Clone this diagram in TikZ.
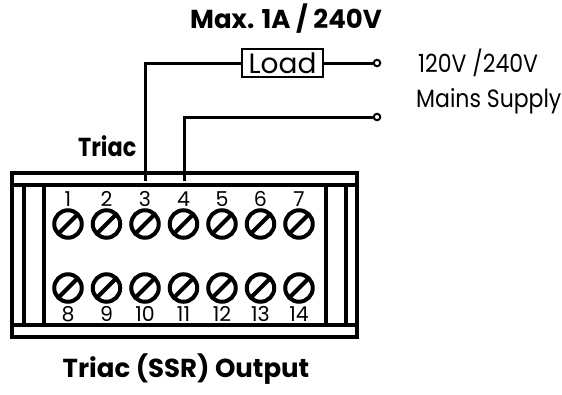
\documentclass[tikz,border=0pt]{standalone}
\usepackage{fontspec}
\setmainfont{Poppins}
\newfontfamily\thinfont[FakeStretch=0.88]{Poppins}
\newfontfamily\narrowfont[FakeStretch=0.86]{Poppins}
\begin{document}
\begin{tikzpicture}[x=1pt,y=-1pt,
  frame/.style={line width=3.6pt},
  wire/.style={line width=3pt},
  screw/.style={circle, draw, line width=4pt, minimum size=27.5pt, inner sep=0pt},
  slash/.style={line width=4pt},
  num/.style={inner sep=0pt, font=\fontsize{20.5}{22}\selectfont},
  title/.style={inner sep=0pt, font=\fontsize{26}{30}\selectfont\bfseries},
  label/.style={inner sep=0pt, font=\thinfont\fontsize{25}{28}\selectfont},
  term/.style={circle, draw, line width=2pt, minimum size=6.5pt, inner sep=0pt, fill=white},
  loadbox/.style={draw, line width=1.8pt, minimum width=81pt, minimum height=28pt, inner sep=0pt, font=\fontsize{28}{28}\selectfont}
]
\useasboundingbox (0,0) rectangle (562,394);
% housing
\draw[frame] (12,173) rectangle (357,337);
\draw[frame] (12,185) -- (357,185);
\draw[frame] (12,325) -- (357,325);
\draw[frame] (24,185) -- (24,325);
\draw[frame] (44,185) -- (44,325);
\draw[frame] (326,185) -- (326,325);
\draw[frame] (346,185) -- (346,325);
% screws
\foreach \i in {1,...,7} {
  \pgfmathsetmacro{\xx}{68+38.5*(\i-1)}
  \pgfmathtruncatemacro{\j}{\i+7}
  \node[screw] (s\i) at (\xx,224) {};
  \node[screw] (s\j) at (\xx,288) {};
  \draw[slash] ([shift={(-10,10)}]s\i.center) -- ([shift={(10,-10)}]s\i.center);
  \draw[slash] ([shift={(-10,10)}]s\j.center) -- ([shift={(10,-10)}]s\j.center);
  \node[num] (n\i) at (\xx,199) {\i};
  \node[num] (n\j) at (\xx,314) {\j};
}
% wiring
\coordinate (p3) at (145,181);
\coordinate (p4) at (184,181);
\node[loadbox] (load) at (282.5,63) {Load};
\node[term] (t1) at (377,63) {};
\node[term] (t2) at (377,117) {};
\draw[wire] (p3) |- (load.west);
\draw[wire] (load.east) -- (t1.west);
\draw[wire] (p4) |- (t2.west);
% texts
\node[title, anchor=base] (max) at (286,28) {Max. 1A / 240V};
\node[label, anchor=base west] (v) at (418,72) {120V /240V};
\node[label, anchor=base west] (ms) at (416,107) {Mains Supply};
\node[title, anchor=base west, font=\narrowfont\fontsize{26}{30}\selectfont\bfseries] (tr) at (78,156) {Triac};
\node[title, anchor=base] (out) at (186,377) {Triac (SSR) Output};
\end{tikzpicture}
\end{document}
